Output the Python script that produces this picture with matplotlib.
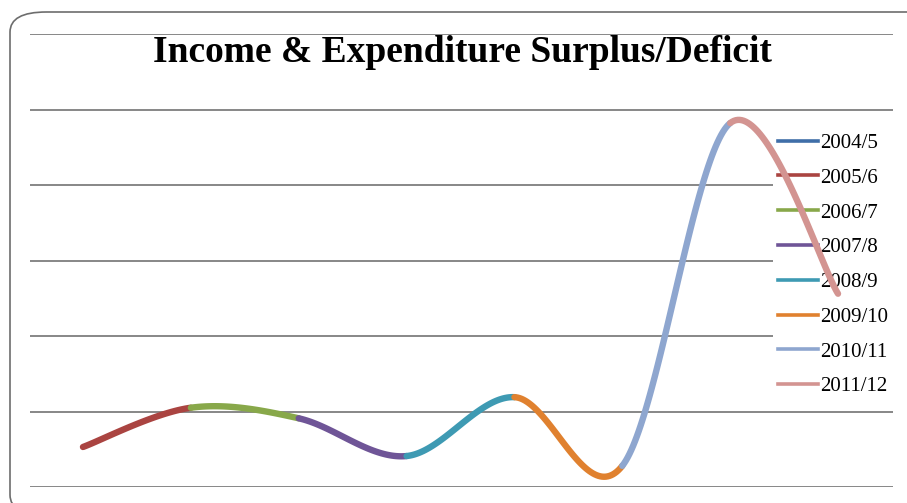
import numpy as np
import matplotlib.pyplot as plt
from matplotlib.patches import FancyBboxPatch, Rectangle

# データ
years = ["2004/5", "2005/6", "2006/7", "2007/8", "2008/9", "2009/10", "2010/11", "2011/12"]
values = [53, 105, 91, 41, 119, 28, 482, 256]
colors = ["#3F6EA8", "#AA4441", "#88A84A", "#6F5597", "#3E9AB3", "#E0812F", "#8EA6CF", "#D39491"]

W, H = 907, 503
fig = plt.figure(figsize=(W / 100, H / 100), dpi=100)

# 外枠（角丸）
frame = FancyBboxPatch((10 / W, 1 - 12 / H - 1), 1.2, 1.0,
                       boxstyle="round,pad=0,rounding_size=0.04",
                       transform=fig.transFigure, fc="white", ec="#6d6d6d", lw=1.2, zorder=-5)
fig.patches.append(frame)

ax = fig.add_axes([30 / W, 1 - 487 / H, (893 - 30) / W, (487 - 34) / H])
ax.set_facecolor("none")

x = np.arange(len(values), dtype=float)
y = np.array(values, dtype=float)

# 平滑化（Catmull-Rom / Bezier）
px = np.concatenate([[x[0]], x, [x[-1]]])
py = np.concatenate([[y[0]], y, [y[-1]]])
t = np.linspace(0, 1, 60)
for i in range(len(values) - 1):
    p0 = np.array([px[i], py[i]])
    p1 = np.array([px[i + 1], py[i + 1]])
    p2 = np.array([px[i + 2], py[i + 2]])
    p3 = np.array([px[i + 3], py[i + 3]])
    c1 = p1 + (p2 - p0) / 6
    c2 = p2 - (p3 - p1) / 6
    b = ((1 - t) ** 3)[:, None] * p1 + (3 * (1 - t) ** 2 * t)[:, None] * c1 \
        + (3 * (1 - t) * t ** 2)[:, None] * c2 + (t ** 3)[:, None] * p2
    ax.plot(b[:, 0], b[:, 1], color=colors[i + 1], lw=4.6, solid_capstyle="round", zorder=3)

handles = [plt.Line2D([], [], color=c, lw=2.6) for c in colors]

ax.set_xlim(-(83 - 30) / 107.9, 7 + (893 - 838) / 107.9)
ax.set_ylim(0, 600)
ax.set_yticks(np.arange(0, 601, 100))
ax.yaxis.grid(True, color="#878787", lw=1.4, zorder=0.5)
ax.set_axisbelow(True)
ax.tick_params(left=False, bottom=False, labelleft=False, labelbottom=False)
for s in ax.spines.values():
    s.set_visible(False)

# 凡例の背景（目盛線を隠す、曲線はその上）
ax.add_patch(Rectangle((773 / W, 1 - 403 / H), 0.2, (403 - 117) / H, transform=fig.transFigure,
                       fc="white", ec="none", zorder=2, clip_on=False))

fig.text(462 / W, 1 - 53 / H, "Income & Expenditure Surplus/Deficit",
         ha="center", va="center", fontsize=27, fontweight="bold", family="Liberation Serif")

leg = ax.legend(handles, years, loc="upper left", bbox_to_anchor=(770 / W, 1 - 125 / H),
                bbox_transform=fig.transFigure, frameon=False,
                prop={"family": "Liberation Serif", "size": 15}, handlelength=1.9,
                handletextpad=0.1, labelspacing=0.73, borderaxespad=0, borderpad=0.4)
leg.set_zorder(2.5)

fig.savefig("out.png", dpi=100)
